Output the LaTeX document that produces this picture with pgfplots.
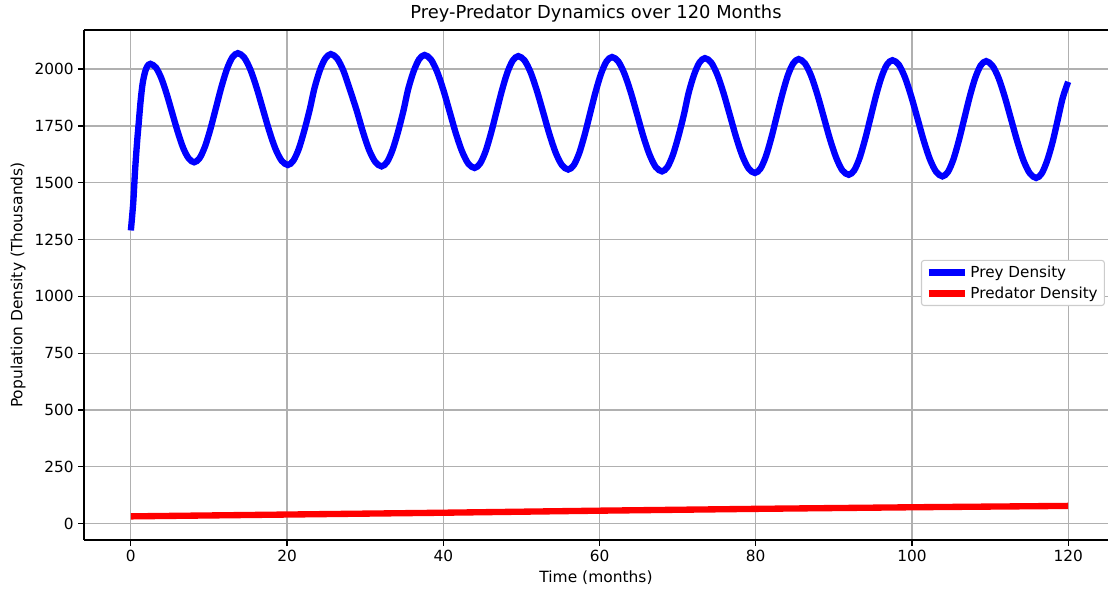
\documentclass[border=0pt]{standalone}
\usepackage{fontspec}
\setmainfont{DejaVu Sans}
\usepackage{pgfplots}
\pgfplotsset{compat=1.18}
\definecolor{gridgray}{RGB}{176,176,176}
\definecolor{legframe}{RGB}{204,204,204}
\begin{document}
\begin{tikzpicture}
\begin{axis}[
  name=ax, at={(0,0)}, anchor=south west,
  scale only axis, width=768pt, height=382.5pt,
  xmin=-6, xmax=125.1, ymin=-72, ymax=2172,
  axis x line*=box, axis y line*=left,
  axis line style={-, line width=0.9pt, black},
  tick pos=left, tick align=outside, major tick length=4.2pt,
  tick style={black, line width=0.9pt},
  xtick={0,20,...,120}, ytick={0,250,...,2000},
  grid=major, major grid style={gridgray, line width=0.95pt},
  /pgf/number format/assume math mode=true,
  /pgf/number format/1000 sep={},
  tick label style={font=\fontsize{11.5}{13.8}\selectfont},
  xlabel={Time (months)}, ylabel={Population Density (Thousands)},
  label style={font=\fontsize{11.6}{13.9}\selectfont},
  title={Prey-Predator Dynamics over 120 Months},
  title style={font=\fontsize{13.4}{16}\selectfont, yshift=-4pt},
  legend style={at={(0.997,0.504)}, anchor=east, draw=legframe, rounded corners=2pt,
    font=\fontsize{11.4}{13.7}\selectfont, line width=0.8pt, row sep=1.5pt},
  legend cell align=left,
  legend image code/.code={\draw[#1] (0pt,0pt) -- (27pt,0pt);},
]
\addplot[blue, line width=4.75pt, smooth] coordinates {
(0,1290) (0.3,1410) (0.55,1560) (0.8,1680) (1.0,1760) (1.25,1860) (1.5,1935) (1.8,1985) (2.1,2012) (2.5,2023)
(3.2,2007) (3.9,1960) (4.6,1889) (5.3,1806) (6.0,1724) (6.7,1653) (7.4,1607) (8.1,1590)
(8.8,1608) (9.5,1660) (10.2,1738) (10.9,1830) (11.6,1922) (12.3,2000) (13.0,2052) (13.7,2070)
(14.5,2051) (15.3,1998) (16.1,1918) (16.9,1824) (17.7,1730) (18.5,1650) (19.3,1597) (20.1,1578)
(20.8,1597) (21.5,1649) (22.2,1729) (22.9,1822) (23.5,1915) (24.2,1995) (24.9,2047) (25.6,2066)
(26.4,2047) (27.2,1994) (28.0,1914) (28.9,1819) (29.7,1725) (30.5,1644) (31.3,1591) (32.1,1572)
(32.8,1591) (33.5,1644) (34.2,1723) (34.9,1817) (35.5,1911) (36.2,1990) (36.9,2043) (37.6,2062)
(38.4,2043) (39.2,1989) (40.0,1909) (40.8,1814) (41.6,1718) (42.4,1638) (43.2,1584) (44.0,1565)
(44.7,1584) (45.4,1637) (46.1,1717) (46.8,1811) (47.5,1905) (48.2,1985) (48.9,2038) (49.6,2057)
(50.4,2038) (51.2,1984) (52.0,1903) (52.8,1808) (53.6,1712) (54.4,1631) (55.2,1577) (56.0,1558)
(56.7,1577) (57.4,1630) (58.1,1711) (58.8,1806) (59.5,1900) (60.2,1980) (60.9,2034) (61.6,2053)
(62.4,2034) (63.2,1979) (64.0,1898) (64.8,1802) (65.6,1705) (66.4,1624) (67.2,1569) (68.0,1550)
(68.7,1569) (69.4,1623) (70.1,1704) (70.8,1799) (71.4,1894) (72.1,1975) (72.8,2029) (73.5,2048)
(74.3,2029) (75.1,1974) (75.9,1892) (76.7,1796) (77.5,1699) (78.3,1617) (79.1,1562) (79.9,1543)
(80.6,1562) (81.3,1616) (82.0,1698) (82.7,1794) (83.4,1889) (84.1,1971) (84.8,2025) (85.5,2044)
(86.3,2025) (87.1,1970) (87.9,1887) (88.7,1790) (89.5,1692) (90.3,1610) (91.1,1554) (91.9,1535)
(92.6,1554) (93.3,1609) (94.0,1691) (94.7,1787) (95.4,1883) (96.1,1965) (96.8,2020) (97.5,2039)
(98.3,2020) (99.1,1964) (99.9,1881) (100.7,1784) (101.5,1686) (102.3,1603) (103.1,1548) (103.9,1528)
(104.6,1547) (105.3,1602) (106.0,1685) (106.7,1782) (107.4,1879) (108.1,1961) (108.8,2016) (109.5,2035)
(110.3,2015) (111.1,1960) (111.9,1876) (112.7,1778) (113.5,1680) (114.3,1596) (115.1,1541) (115.9,1521)
(116.6,1540) (117.3,1596) (118.0,1678) (118.65,1775) (119.3,1873) (120,1944)
};
\addlegendentry{Prey Density}
\addplot[red, line width=4.75pt] coordinates {
(0,32) (20,40) (40,48) (60,57) (80,65) (100,72) (120,78)
};
\addlegendentry{Predator Density}
\end{axis}
\pgfresetboundingbox
\path[use as bounding box] (-63pt,-36.75pt) rectangle (768pt,405pt);
\end{tikzpicture}
\end{document}
